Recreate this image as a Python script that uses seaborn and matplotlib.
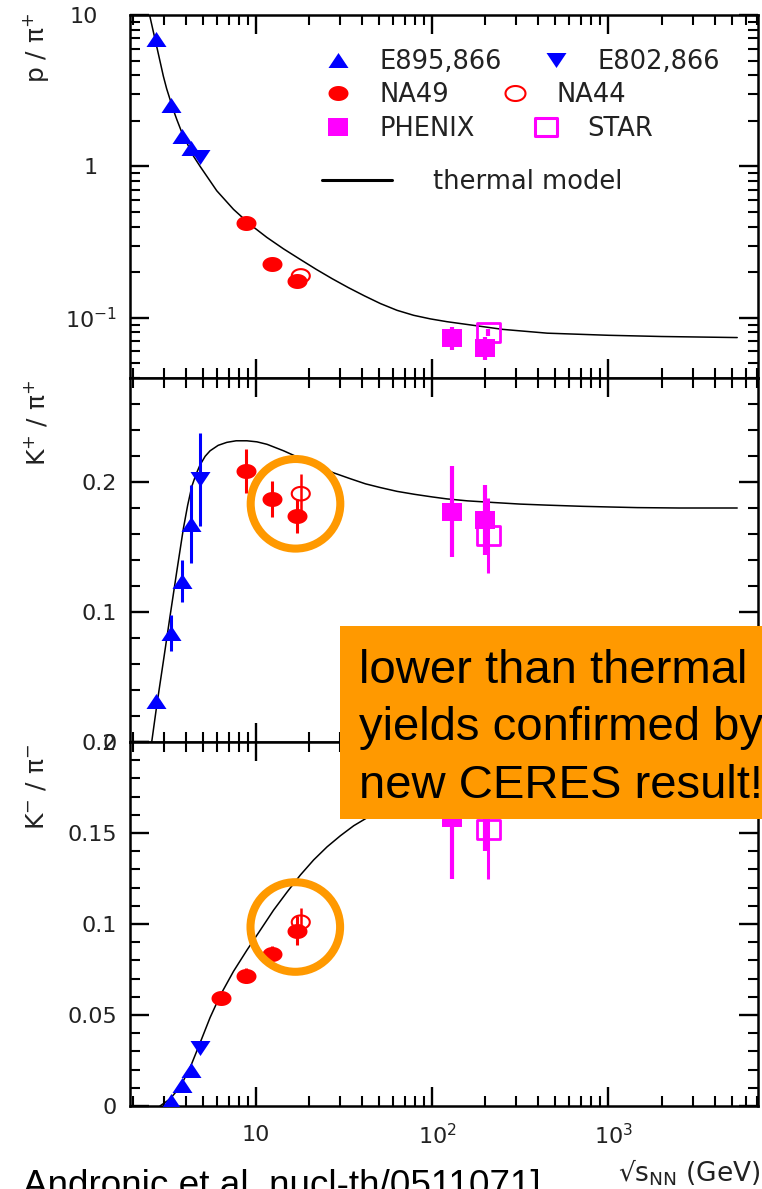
import numpy as np
import matplotlib
matplotlib.use("Agg")
import matplotlib.pyplot as plt
import seaborn as sns
from matplotlib.path import Path
from matplotlib.markers import MarkerStyle
from matplotlib.lines import Line2D
from matplotlib.patches import Rectangle, Ellipse
from matplotlib.ticker import MultipleLocator, NullFormatter, LogLocator
from matplotlib.transforms import ScaledTranslation

# ---------------- data: p / pi+ ----------------
pp_e895_x = [2.68, 3.28, 3.8, 4.25]
pp_e895_y = [6.9, 2.53, 1.58, 1.33]
pp_e802_x = [4.8]
pp_e802_y = [1.15]
pp_na49_x = [8.8, 12.3, 17.1]
pp_na49_y = [0.42, 0.228, 0.175]
pp_na44_x = [17.9]
pp_na44_y = [0.189]
pp_phenix_x = [130, 198]
pp_phenix_y = [0.074, 0.0636]
pp_phenix_e = [0.013, 0.011]
pp_star_x = [208]
pp_star_y = [0.080]
pp_star_e = [0.004]
pp_model_x = [2.40, 2.49, 2.6, 2.72, 2.97, 3.1, 3.24, 3.38, 3.54, 3.8, 4.04, 4.4,
              4.8, 5.97, 7.43, 9.24, 11.49, 14.30, 17.8, 21.93, 27.04, 33.34,
              41.11, 50.7, 63.0, 78.3, 97.4, 121, 251, 449, 1000, 1995, 5380]
pp_model_y = [11.8, 9.8, 7.83, 6.22, 3.94, 3.26, 2.77, 2.37, 2.04, 1.65, 1.43, 1.17,
              1.0, 0.690, 0.520, 0.413, 0.3395, 0.285, 0.2427, 0.2087, 0.1809, 0.1582,
              0.1396, 0.1241, 0.1120, 0.1038, 0.0983, 0.0942, 0.0838, 0.0791, 0.0766,
              0.0752, 0.074]

# ---------------- data: K+ / pi+ ----------------
kp_e895_x = [2.68, 3.28, 3.8, 4.25]
kp_e895_y = [0.0315, 0.084, 0.124, 0.168]
kp_e895_e = [0.003, 0.014, 0.016, 0.030]
kp_e802_x = [4.8]
kp_e802_y = [0.202]
kp_e802_e = [0.036]
kp_na49_x = [8.8, 12.3, 17.1]
kp_na49_y = [0.2085, 0.187, 0.174]
kp_na49_e = [0.017, 0.014, 0.013]
kp_na44_x = [17.9]
kp_na44_y = [0.191]
kp_na44_e = [0.015]
kp_phenix_x = [130, 198]
kp_phenix_y = [0.177, 0.171]
kp_phenix_e = [0.035, 0.027]
kp_star_x = [208]
kp_star_y = [0.159]
kp_star_e = [0.029]
kp_model_x = [2.55, 2.72, 2.97, 3.24, 3.54, 3.86, 4.08, 4.31, 4.55, 4.80, 5.13,
              5.47, 6.08, 6.81, 7.69, 8.85, 10.09, 11.51, 14.30, 17.80, 22.14,
              27.42, 34.25, 41.69, 50.73, 63, 79.4, 100, 121, 158, 224, 316, 449,
              708, 1000, 1456, 2512, 5380]
kp_model_y = [0.0, 0.0275, 0.0621, 0.0967, 0.1313, 0.1644, 0.1821, 0.1967, 0.2059,
              0.2132, 0.2198, 0.224, 0.2282, 0.2305, 0.2317, 0.2317, 0.2309, 0.229,
              0.224, 0.2182, 0.2125, 0.2071, 0.2025, 0.1986, 0.1957, 0.1928, 0.1905,
              0.1885, 0.1870, 0.1855, 0.1842, 0.1830, 0.1822, 0.1813, 0.1808, 0.1803,
              0.1800, 0.1800]

# ---------------- data: K- / pi- ----------------
km_e895_x = [3.28, 3.8, 4.25]
km_e895_y = [0.0025, 0.0116, 0.020]
km_e802_x = [4.8]
km_e802_y = [0.032]
km_na49_x = [6.3, 8.8, 12.3, 17.1]
km_na49_y = [0.0594, 0.0717, 0.0837, 0.0962]
km_na49_e = [0.003, 0.004, 0.004, 0.008]
km_na44_x = [17.9]
km_na44_y = [0.101]
km_na44_e = [0.008]
km_phenix_x = [130, 198]
km_phenix_y = [0.158, 0.163]
km_phenix_e = [0.033, 0.023]
km_star_x = [208]
km_star_y = [0.152]
km_star_e = [0.027]
km_model_x = [2.84, 3.24, 3.70, 4.21, 4.80, 5.47, 6.24, 7.43, 8.85, 10.54, 12.54,
              14.95, 17.80, 21.18, 25.25, 30.05, 35.77, 42.63, 50.73, 80, 150, 500,
              1500, 5380]
km_model_y = [0.0, 0.00386, 0.0105, 0.0210, 0.0347, 0.0486, 0.0607, 0.0740, 0.0856,
              0.0966, 0.1076, 0.1175, 0.1269, 0.1352, 0.1424, 0.1485, 0.1540, 0.1584,
              0.1617, 0.165, 0.168, 0.170, 0.171, 0.171]

legend_labels = ["E895,866", "E802,866", "NA49", "NA44", "PHENIX", "STAR", "thermal model"]
ylabels = ["p / \u03c0$^{+}$", "K$^{+}$ / \u03c0$^{+}$", "K$^{-}$ / \u03c0$^{-}$"]
xlabel = "\u221as$_\\mathregular{NN}$ (GeV)"
note_lines = ["lower than thermal", "yields confirmed by", "new CERES result!"]
citation = "Andronic et al. nucl-th/0511071]"

BLUE, RED, MAGENTA, ORANGE = "#0000ff", "#ff0000", "#ff00ff", "#ff9900"

sns.set_style("white")
plt.rcParams["font.family"] = ["DejaVu Sans"]
plt.rcParams["mathtext.fontset"] = "dejavusans"

W, H = 762, 1189
fig = plt.figure(figsize=(W / 100, H / 100), dpi=100)


def fx(px):
    return px / W


def fy(py):
    return 1 - py / H


# horizontally stretched marker shapes
def closed(verts):
    return MarkerStyle(Path(verts + [verts[0]], closed=True))


t = np.linspace(0, 2 * np.pi, 48, endpoint=False)
M_UP = closed([(-1, -0.75), (1, -0.75), (0, 0.75)])
M_DOWN = closed([(-1, 0.75), (1, 0.75), (0, -0.75)])
M_CIRC = closed([(np.cos(a), 0.75 * np.sin(a)) for a in t])
M_SQ = closed([(-1, -0.85), (1, -0.85), (1, 0.85), (-1, 0.85)])

AX_L, AX_R = 130, 758
panels = [(15, 378), (378, 742), (742, 1106)]
axes = []
for top, bot in panels:
    ax = fig.add_axes([fx(AX_L), fy(bot), (AX_R - AX_L) / W, (bot - top) / H])
    axes.append(ax)


def errs(ax, x, y, e, color, lw=2.2):
    ax.errorbar(x, y, yerr=e, fmt="none", ecolor=color, elinewidth=lw,
                capsize=0, zorder=3)


def pts(ax, x, y, marker, color, size, open_=False, lw=0):
    if open_:
        sns.scatterplot(x=x, y=y, ax=ax, marker=marker, s=size ** 2, color=color,
                        facecolor="none", edgecolor=color, linewidth=lw, zorder=5,
                        legend=False)
    else:
        sns.scatterplot(x=x, y=y, ax=ax, marker=marker, s=size ** 2, color=color,
                        edgecolor=color, linewidth=0, zorder=4, legend=False)


def model(ax, x, y):
    sns.lineplot(x=x, y=y, ax=ax, color="black", lw=1.1, sort=False,
                 estimator=None, legend=False, zorder=2)


for ax in axes:
    ax.set_xscale("log")
ax1, ax2, ax3 = axes
ax1.set_yscale("log")

# p / pi+
model(ax1, pp_model_x, pp_model_y)
errs(ax1, pp_phenix_x, pp_phenix_y, pp_phenix_e, MAGENTA, 3.0)
errs(ax1, pp_star_x, pp_star_y, pp_star_e, MAGENTA, 3.0)
pts(ax1, pp_e895_x, pp_e895_y, M_UP, BLUE, 14.4)
pts(ax1, pp_e802_x, pp_e802_y, M_DOWN, BLUE, 14.4)
pts(ax1, pp_na49_x, pp_na49_y, M_CIRC, RED, 14.4)
pts(ax1, pp_na44_x, pp_na44_y, M_CIRC, RED, 13, True, 1.5)
pts(ax1, pp_phenix_x, pp_phenix_y, M_SQ, MAGENTA, 15)
pts(ax1, pp_star_x, pp_star_y, M_SQ, MAGENTA, 16.5, True, 2.0)

# K+ / pi+
model(ax2, kp_model_x, kp_model_y)
errs(ax2, kp_e895_x, kp_e895_y, kp_e895_e, BLUE)
errs(ax2, kp_e802_x, kp_e802_y, kp_e802_e, BLUE)
errs(ax2, kp_na49_x, kp_na49_y, kp_na49_e, RED)
errs(ax2, kp_na44_x, kp_na44_y, kp_na44_e, RED, 1.8)
errs(ax2, kp_phenix_x, kp_phenix_y, kp_phenix_e, MAGENTA, 3.0)
errs(ax2, kp_star_x, kp_star_y, kp_star_e, MAGENTA, 2.2)
pts(ax2, kp_e895_x, kp_e895_y, M_UP, BLUE, 14.4)
pts(ax2, kp_e802_x, kp_e802_y, M_DOWN, BLUE, 14.4)
pts(ax2, kp_na49_x, kp_na49_y, M_CIRC, RED, 14.4)
pts(ax2, kp_na44_x, kp_na44_y, M_CIRC, RED, 13, True, 1.5)
pts(ax2, kp_phenix_x, kp_phenix_y, M_SQ, MAGENTA, 15)
pts(ax2, kp_star_x, kp_star_y, M_SQ, MAGENTA, 16.5, True, 2.0)

# K- / pi-
model(ax3, km_model_x, km_model_y)
errs(ax3, km_na49_x, km_na49_y, km_na49_e, RED)
errs(ax3, km_na44_x, km_na44_y, km_na44_e, RED, 1.8)
errs(ax3, km_phenix_x, km_phenix_y, km_phenix_e, MAGENTA, 3.0)
errs(ax3, km_star_x, km_star_y, km_star_e, MAGENTA, 2.2)
pts(ax3, km_e895_x, km_e895_y, M_UP, BLUE, 14.4)
pts(ax3, km_e802_x, km_e802_y, M_DOWN, BLUE, 14.4)
pts(ax3, km_na49_x, km_na49_y, M_CIRC, RED, 14.4)
pts(ax3, km_na44_x, km_na44_y, M_CIRC, RED, 13, True, 1.5)
pts(ax3, km_phenix_x, km_phenix_y, M_SQ, MAGENTA, 15)
pts(ax3, km_star_x, km_star_y, M_SQ, MAGENTA, 16.5, True, 2.0)

# ---------------- axes styling ----------------
for ax in axes:
    ax.set_xlim(1.92, 7060)
    ax.set_xlabel("")
    ax.set_ylabel("")
    ax.xaxis.set_major_locator(LogLocator(base=10, numticks=10))
    ax.xaxis.set_minor_locator(LogLocator(base=10, subs=np.arange(2, 10), numticks=20))
    ax.xaxis.set_minor_formatter(NullFormatter())
    ax.tick_params(which="both", direction="in", top=True, right=True,
                   bottom=True, left=True, colors="black", labelcolor="#222222")
    ax.tick_params(which="major", length=14, width=1.7)
    ax.tick_params(which="minor", length=7, width=1.5)
    ax.tick_params(axis="y", labelsize=16, pad=9.4)
    for s in ax.spines.values():
        s.set_linewidth(1.8)
        s.set_color("black")
    ax.set_facecolor("white")

ax1.tick_params(labelbottom=False)
ax2.tick_params(labelbottom=False)

ax1.set_ylim(0.04, 10)
ax1.yaxis.set_major_locator(LogLocator(base=10, numticks=10))
ax1.yaxis.set_minor_locator(LogLocator(base=10, subs=np.arange(2, 10), numticks=20))
ax1.yaxis.set_minor_formatter(NullFormatter())
ax1.set_yticks([0.1, 1, 10])
ax1.set_yticklabels(["$10^{-1}$", "1", "10"])
for lab in ax1.get_yticklabels()[1:]:
    lab.set_transform(lab.get_transform() + ScaledTranslation(-0.19, 0, fig.dpi_scale_trans))

ax2.set_ylim(0, 0.28)
ax2.set_yticks([0, 0.1, 0.2])
ax2.set_yticklabels(["0", "0.1", "0.2"])
ax2.yaxis.set_minor_locator(MultipleLocator(0.02))

ax3.set_ylim(0, 0.2)
ax3.set_yticks([0, 0.05, 0.1, 0.15, 0.2])
ax3.set_yticklabels(["0", "0.05", "0.1", "0.15", "0.2"])
ax3.yaxis.set_minor_locator(MultipleLocator(0.01))
ax3.set_xticks([10, 100, 1000])
ax3.set_xticklabels(["10", "$10^{2}$", "$10^{3}$"])
ax3.tick_params(axis="x", labelsize=16, pad=13.5)
for lab in ax3.get_xticklabels()[1:]:
    lab.set_transform(lab.get_transform() + ScaledTranslation(0.05, 0.02, fig.dpi_scale_trans))

# axis titles
for label, top_px in zip(ylabels, [13, 380, 744]):
    fig.text(fx(36), fy(top_px), label, rotation=90, ha="center", va="top",
             fontsize=18, color="#222222")
fig.text(fx(761), fy(1181), xlabel, ha="right", va="baseline", fontsize=19,
         color="#222222")

# ---------------- legend ----------------
FS_LEG = 18.5
fs_px = FS_LEG * 100 / 72
leg_entries = [
    (Line2D([], [], ls="none", marker=M_UP, ms=14.4, mfc=BLUE, mec=BLUE, mew=0), legend_labels[0], 338, 62),
    (Line2D([], [], ls="none", marker=M_DOWN, ms=14.4, mfc=BLUE, mec=BLUE, mew=0), legend_labels[1], 556, 62),
    (Line2D([], [], ls="none", marker=M_CIRC, ms=14.4, mfc=RED, mec=RED, mew=0), legend_labels[2], 338, 95),
    (Line2D([], [], ls="none", marker=M_CIRC, ms=14.4, mfc="none", mec=RED, mew=1.5), legend_labels[3], 515, 95),
    (Line2D([], [], ls="none", marker=M_SQ, ms=15, mfc=MAGENTA, mec=MAGENTA, mew=0), legend_labels[4], 338, 129),
    (Line2D([], [], ls="none", marker=M_SQ, ms=15.5, mfc="none", mec=MAGENTA, mew=2.2), legend_labels[5], 546, 129),
]
for handle, label, mx, my in leg_entries:
    hl = 1.6
    leg = ax1.legend([handle], [label], loc="center left",
                     bbox_to_anchor=(fx(mx - hl / 2 * fs_px), fy(my)),
                     bbox_transform=fig.transFigure, frameon=False, borderpad=0,
                     borderaxespad=0, handlelength=hl,
                     handletextpad=41.5 / fs_px - hl / 2,
                     fontsize=FS_LEG, labelcolor="#222222")
    ax1.add_artist(leg)
line_handle = Line2D([], [], color="black", lw=2.2)
leg = ax1.legend([line_handle], [legend_labels[6]], loc="center left",
                 bbox_to_anchor=(fx(322), fy(182)), bbox_transform=fig.transFigure,
                 frameon=False, borderpad=0, borderaxespad=0,
                 handlelength=70 / fs_px, handletextpad=41 / fs_px,
                 fontsize=FS_LEG, labelcolor="#222222")

# ---------------- highlight overlays ----------------
for cx, cy in [(295.5, 503.8), (295.3, 927.0)]:
    fig.add_artist(Ellipse((fx(cx), fy(cy)), width=2 * 44.8 / W, height=2 * 44.8 / H,
                           transform=fig.transFigure, fill=False, ec=ORANGE, lw=5.8,
                           zorder=6))

fig.add_artist(Rectangle((fx(340), fy(819)), (W + 20 - 340) / W, (819 - 626) / H,
                         transform=fig.transFigure, fc=ORANGE, ec="none", zorder=7))
for line, base in zip(note_lines, [683, 740, 798]):
    fig.text(fx(359), fy(base), line, ha="left", va="baseline", fontsize=34,
             family=["Liberation Sans"], color="black", zorder=8)

fig.text(fx(23), fy(1196.5), citation, ha="left", va="baseline", fontsize=26.6,
         family=["Liberation Sans"], color="black")

fig.savefig("out.png", dpi=100, facecolor="white")
